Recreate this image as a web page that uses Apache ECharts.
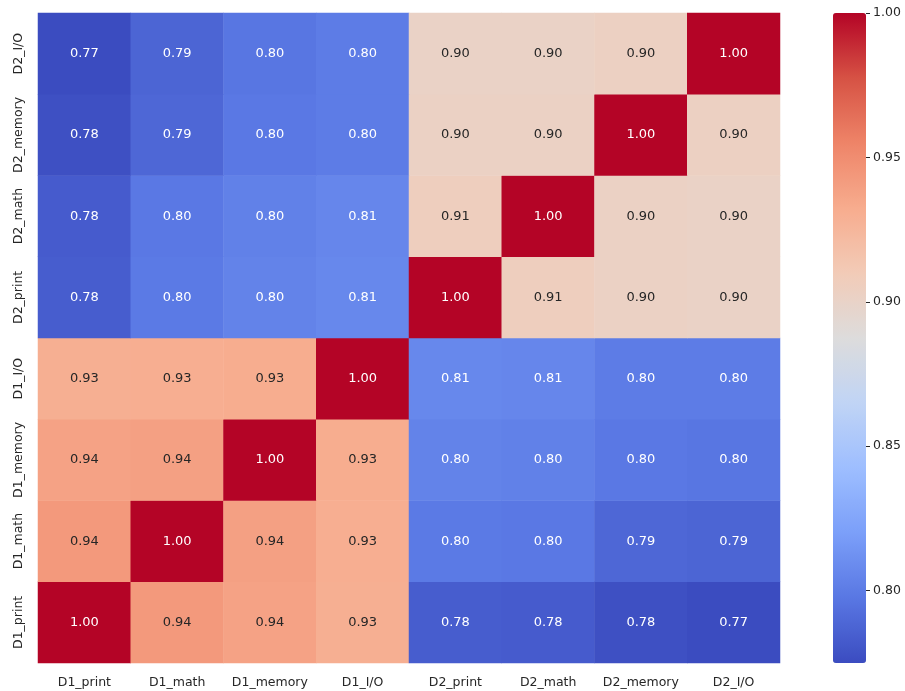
<!DOCTYPE html>
<html>
<head>
<meta charset="utf-8">
<script src="https://cdn.jsdelivr.net/npm/echarts@6/dist/echarts.min.js"></script>
<style>
  html, body { margin: 0; padding: 0; background: #fff; }
  #chart { width: 905px; height: 691px; }
</style>
</head>
<body>
<div id="chart"></div>
<script>
const xCategories = ["D1_print", "D1_math", "D1_memory", "D1_I/O", "D2_print", "D2_math", "D2_memory", "D2_I/O"];
const yCategories = ["D1_print", "D1_math", "D1_memory", "D1_I/O", "D2_print", "D2_math", "D2_memory", "D2_I/O"];

// one row per y category (bottom to top), columns follow xCategories
const rowD1Print  = [1.000, 0.943, 0.938, 0.930, 0.784, 0.783, 0.777, 0.7749];
const rowD1Math   = [0.943, 1.000, 0.939, 0.931, 0.799, 0.798, 0.789, 0.788];
const rowD1Memory = [0.938, 0.939, 1.000, 0.932, 0.804, 0.803, 0.798, 0.797];
const rowD1IO     = [0.930, 0.931, 0.932, 1.000, 0.807, 0.806, 0.800, 0.800];
const rowD2Print  = [0.784, 0.799, 0.804, 0.807, 1.000, 0.906, 0.902, 0.901];
const rowD2Math   = [0.783, 0.798, 0.803, 0.806, 0.906, 1.000, 0.902, 0.901];
const rowD2Memory = [0.777, 0.789, 0.798, 0.800, 0.902, 0.902, 1.000, 0.903];
const rowD2IO     = [0.7749, 0.788, 0.797, 0.800, 0.901, 0.901, 0.903, 1.000];
const rows = [rowD1Print, rowD1Math, rowD1Memory, rowD1IO, rowD2Print, rowD2Math, rowD2Memory, rowD2IO];

const colorbarTicks = [0.80, 0.85, 0.90, 0.95, 1.00];
const vMin = 0.7749;
const vMax = 1.0;

const coolwarm = ["#3b4cc0", "#5977e3", "#7b9ff9", "#9ebeff", "#c0d4f5", "#dddcdc",
                  "#f2cbb7", "#f7ac8e", "#ee8468", "#d65244", "#b40426"];

const data = [];
rows.forEach((row, y) => {
  row.forEach((v, x) => {
    const light = v > 0.85 && v < 0.97;
    data.push({
      value: [x, y, v],
      label: { color: light ? "#262626" : "#ffffff" }
    });
  });
});

const chart = echarts.init(document.getElementById("chart"));
chart.setOption({
  backgroundColor: "#ffffff",
  animation: false,
  textStyle: { fontFamily: "DejaVu Sans" },
  grid: [
    { left: 38, top: 13, width: 742, height: 650 },
    { left: 833, top: 13, width: 33, height: 650 }
  ],
  xAxis: [
    {
      type: "category", data: xCategories, gridIndex: 0,
      axisLine: { show: false }, axisTick: { show: false },
      splitLine: { show: false },
      axisLabel: { color: "#262626", fontSize: 12.5, margin: 13, interval: 0 }
    },
    { type: "category", data: ["c"], gridIndex: 1, show: false }
  ],
  yAxis: [
    {
      type: "category", data: yCategories, gridIndex: 0,
      axisLine: { show: false }, axisTick: { show: false },
      splitLine: { show: false },
      axisLabel: { color: "#262626", fontSize: 12.5, rotate: 90, margin: 13, interval: 0 }
    },
    {
      type: "value", gridIndex: 1, position: "right", min: vMin, max: vMax,
      axisLine: { show: false },
      splitLine: { show: false },
      axisTick: { show: true, length: 4, lineStyle: { color: "#262626" }, customValues: colorbarTicks },
      axisLabel: {
        color: "#262626", fontSize: 12.5, margin: 7,
        customValues: colorbarTicks,
        formatter: v => v.toFixed(2)
      }
    }
  ],
  visualMap: {
    type: "continuous",
    min: vMin, max: vMax,
    dimension: 2,
    seriesIndex: 0,
    calculable: false,
    left: 833, top: 13,
    padding: 0,
    itemWidth: 33, itemHeight: 650,
    text: null,
    showLabel: false,
    inRange: { color: coolwarm }
  },
  series: [{
    type: "heatmap",
    xAxisIndex: 0, yAxisIndex: 0,
    data: data,
    label: {
      show: true, fontSize: 13, fontFamily: "DejaVu Sans",
      formatter: p => p.value[2].toFixed(2)
    },
    itemStyle: { borderWidth: 0 },
    emphasis: { disabled: true }
  }]
});
</script>
</body>
</html>
